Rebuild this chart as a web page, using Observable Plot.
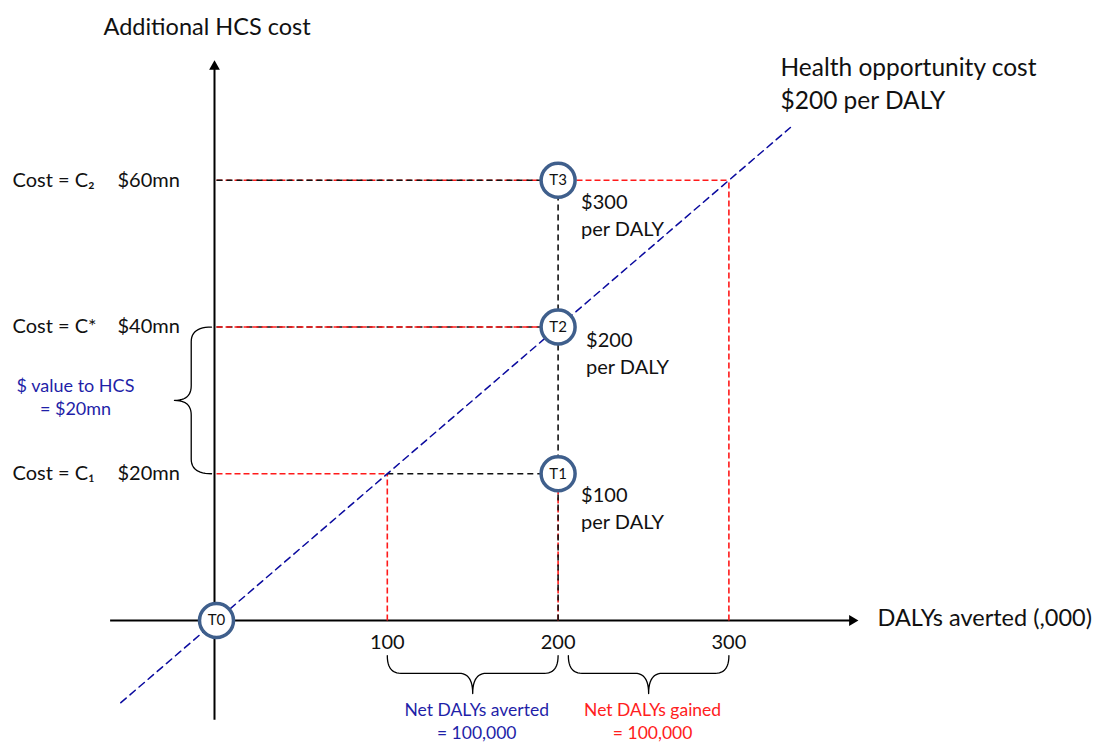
<!DOCTYPE html>
<html><head><meta charset="utf-8">
<script src="https://cdn.jsdelivr.net/npm/d3@7"></script>
<script src="https://cdn.jsdelivr.net/npm/@observablehq/plot@0.6"></script>
<style>body{margin:0;background:#fff;} #chart svg{display:block;}</style>
</head><body><div id="chart"></div>
<script>
// ---- data ----
const xTicks = [100, 200, 300];                       // DALYs averted (,000)
const costLevels = [20, 40, 60];                      // $mn
const costNames = ["Cost = C\u2081", "Cost = C*", "Cost = C\u2082"];
const costValues = ["$20mn", "$40mn", "$60mn"];
const programmes = ["T0", "T1", "T2", "T3"];
const programmeDalys = [0, 200, 200, 200];
const programmeCosts = [0, 20, 40, 60];
const icerLabels = ["", "$100\nper DALY", "$200\nper DALY", "$300\nper DALY"];
const thresholdPerDaly = 200;                         // $ per DALY
const thresholdDalys = [100, 200, 300];               // DALYs where threshold meets each cost level
const lineExtent = [-56, 336];                        // extent of threshold line (DALYs)
const netLabels = ["Net DALYs averted\n= 100,000", "Net DALYs gained\n= 100,000"];
const netColors = ["#1f1fa8", "#ff2020"];
const netRanges = [[100, 200], [206, 300]];
const hcsRange = [20, 40];
const hcsLabel = "$ value to HCS\n= $20mn";
const axisX = [-62, 372.2];
const axisY = [-13.6, 75.5];

const font = "Lato";
const RED = "#ff1a1a", BLACK = "#111", BLUE = "#0a0a9e", RING = "#3f5f8c";

// threshold line: cost ($mn) = DALYs(000) * $/DALY / 1000
const threshold = lineExtent.map(x => ({x, y: x * thresholdPerDaly / 1000}));

// dashed guide segments
const redSegs = [
  {x1: 0, y1: costLevels[2], x2: thresholdDalys[2], y2: costLevels[2]},
  {x1: 0, y1: costLevels[1], x2: thresholdDalys[1], y2: costLevels[1]},
  {x1: 0, y1: costLevels[0], x2: thresholdDalys[0], y2: costLevels[0]},
  {x1: thresholdDalys[0], y1: 0, x2: thresholdDalys[0], y2: costLevels[0]},
  {x1: thresholdDalys[2], y1: 0, x2: thresholdDalys[2], y2: costLevels[2]},
  {x1: programmeDalys[1], y1: 0, x2: programmeDalys[1], y2: programmeCosts[1]}
];
const blackUnder = [
  {x1: 0, y1: costLevels[1], x2: programmeDalys[2], y2: costLevels[1]}
];
const blackOver = [
  {x1: 0, y1: costLevels[2], x2: programmeDalys[3], y2: costLevels[2]},
  {x1: thresholdDalys[0], y1: costLevels[0], x2: programmeDalys[1], y2: costLevels[0]},
  {x1: programmeDalys[3], y1: 0, x2: programmeDalys[3], y2: programmeCosts[3]}
];

// curly brace geometry (along = direction of the span)
function brace(a, b, base, spine, tip, r, vertical, id) {
  const mid = (a + b) / 2, pts = [];
  const q = (p0, c, p1) => { for (let i = 0; i <= 12; i++) { const t = i / 12, s = 1 - t;
    pts.push([s*s*p0[0] + 2*s*t*c[0] + t*t*p1[0], s*s*p0[1] + 2*s*t*c[1] + t*t*p1[1]]); } };
  q([a, base], [a, spine], [a + r, spine]);
  q([mid - r, spine], [mid, spine], [mid, tip]);
  q([mid, tip], [mid, spine], [mid + r, spine]);
  q([b - r, spine], [b, spine], [b, base]);
  return pts.map(([u, v]) => vertical ? {x: v, y: u, id} : {x: u, y: v, id});
}
const braces = [
  ...brace(hcsRange[0], hcsRange[1], -2.9, -14.8, -24.6, 2, true, "hcs"),
  ...brace(netRanges[0][0], netRanges[0][1], -4.8, -7.2, -9.95, 8, false, "n1"),
  ...brace(netRanges[1][0], netRanges[1][1], -4.8, -7.2, -9.95, 8, false, "n2")
];

const icerMarks = [1, 2, 3].map(i => Plot.text([icerLabels[i]], {
  x: programmeDalys[i], y: programmeCosts[i], text: d => d,
  textAnchor: "start", lineAnchor: "middle", lineHeight: 1.33,
  dx: i === 2 ? 28 : 23, dy: i === 2 ? 25 : 33.5, fontSize: 20, fontFamily: font, fill: "#111"
}));

const chart = Plot.plot({
  width: 1099, height: 745,
  marginTop: 0, marginRight: 0, marginBottom: 0, marginLeft: 0,
  style: {fontFamily: font, background: "white"},
  x: {domain: [0, 300], range: [216, 728.4], axis: null},
  y: {domain: [0, 60], range: [620, 179.8], axis: null},
  marks: [
    // axes
    Plot.ruleY([0], {x1: axisX[0], x2: axisX[1], stroke: "#000", strokeWidth: 2}),
    Plot.ruleX([0], {y1: axisY[0], y2: axisY[1], stroke: "#000", strokeWidth: 2, dx: -2}),
    Plot.dot([0], {x: axisX[1], y: 0, symbol: "triangle", rotate: 90, r: 4, fill: "#000", stroke: null}),
    Plot.dot([0], {x: 0, y: axisY[1], symbol: "triangle", rotate: 0, r: 4, fill: "#000", stroke: null, dx: -2}),
    // guides
    Plot.link(blackUnder, {x1: "x1", y1: "y1", x2: "x2", y2: "y2", stroke: BLACK, strokeWidth: 1.6, strokeDasharray: "6,4"}),
    Plot.link(redSegs, {x1: "x1", y1: "y1", x2: "x2", y2: "y2", stroke: RED, strokeWidth: 1.6, strokeDasharray: "6,3"}),
    Plot.link(blackOver, {x1: "x1", y1: "y1", x2: "x2", y2: "y2", stroke: BLACK, strokeWidth: 1.6, strokeDasharray: "6,4"}),
    // threshold line
    Plot.line(threshold, {x: "x", y: "y", stroke: BLUE, strokeWidth: 1.5, strokeDasharray: "7,5"}),
    // braces
    Plot.line(braces, {x: "x", y: "y", z: "id", stroke: "#000", strokeWidth: 1.3, curve: "linear"}),
    // programme circles
    Plot.dot(programmes, {x: (d, i) => programmeDalys[i], y: (d, i) => programmeCosts[i], r: 17, stroke: RING, strokeWidth: 3.5, fill: "white"}),
    Plot.text(programmes, {x: (d, i) => programmeDalys[i], y: (d, i) => programmeCosts[i], text: d => d, fontSize: 15, fontFamily: font, fill: "#111"}),
    ...icerMarks,
    // cost labels
    Plot.text(costNames, {y: (d, i) => costLevels[i], text: d => d, frameAnchor: "left", textAnchor: "start", dx: 12, fontSize: 20, fontFamily: font, fill: "#111"}),
    Plot.text(costValues, {y: (d, i) => costLevels[i], text: d => d, frameAnchor: "left", textAnchor: "start", dx: 117, fontSize: 20, fontFamily: font, fill: "#111"}),
    Plot.text([hcsLabel], {y: (hcsRange[0] + hcsRange[1]) / 2, text: d => d, frameAnchor: "left", textAnchor: "middle", lineAnchor: "middle", dx: 75, dy: -4.5, lineHeight: 1.28, fontSize: 18, fontFamily: font, fill: "#1f1fa8"}),
    // x tick labels
    Plot.text(xTicks, {x: d => d, y: 0, text: d => String(d), dy: 22, fontSize: 20, fontFamily: font, fill: "#111"}),
    // net labels
    Plot.text(netLabels, {x: (d, i) => (netRanges[i][0] + netRanges[i][1]) / 2, y: 0, text: d => d, dx: 4, dy: 100, lineHeight: 1.3, fontSize: 17.5, fontFamily: font, fill: (d, i) => netColors[i]}),
    // axis titles
    Plot.text(["Additional HCS cost"], {frameAnchor: "top-left", textAnchor: "start", lineAnchor: "middle", dx: 103, dy: 27, text: d => d, fontSize: 23.5, fontFamily: font, fill: "#111"}),
    Plot.text(["DALYs averted (,000)"], {y: 0, frameAnchor: "left", textAnchor: "start", lineAnchor: "middle", dx: 877, dy: -2, text: d => d, fontSize: 23.5, fontFamily: font, fill: "#111"}),
    Plot.text(["Health opportunity cost\n$200 per DALY"], {frameAnchor: "top-left", textAnchor: "start", lineAnchor: "middle", dx: 780, dy: 81, lineHeight: 1.36, text: d => d, fontSize: 24.5, fontFamily: font, fill: "#111"})
  ]
});
document.getElementById("chart").append(chart);
</script>
</body></html>
